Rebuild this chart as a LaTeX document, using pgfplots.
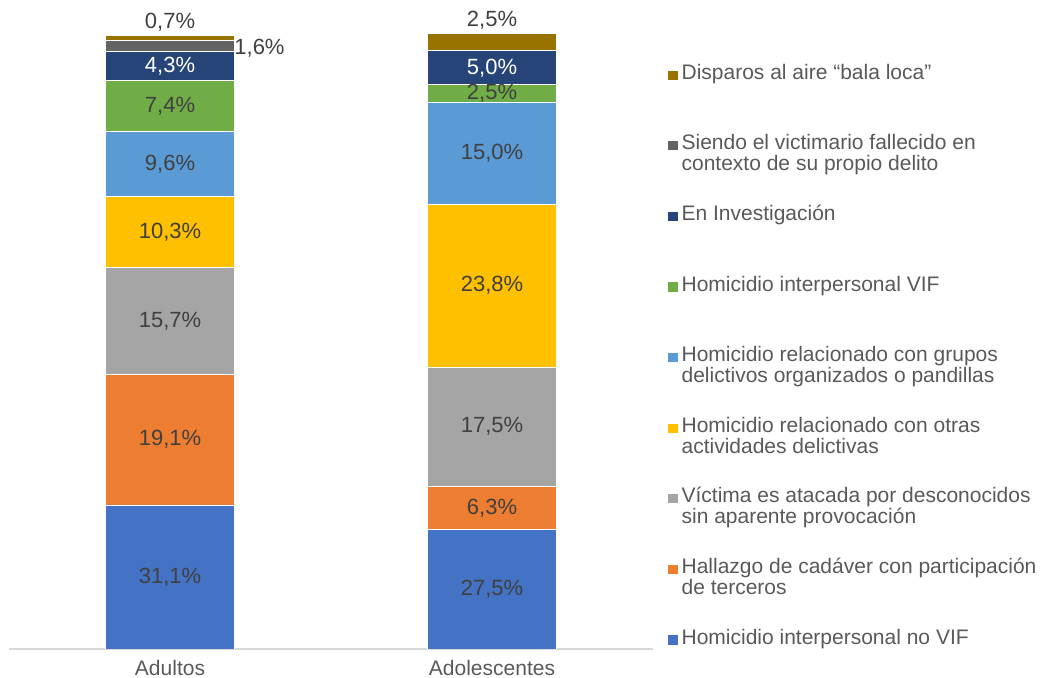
\documentclass[border=0pt]{standalone}
\usepackage{fontspec}
\setmainfont{Liberation Sans}
\usepackage{pgfplots}
\pgfplotsset{compat=1.18}

\definecolor{cA}{HTML}{4472C4}
\definecolor{cB}{HTML}{ED7D31}
\definecolor{cC}{HTML}{A5A5A5}
\definecolor{cD}{HTML}{FFC000}
\definecolor{cE}{HTML}{5B9BD5}
\definecolor{cF}{HTML}{70AD47}
\definecolor{cG}{HTML}{264478}
\definecolor{cH}{HTML}{636363}
\definecolor{cI}{HTML}{997300}
\definecolor{axisgray}{HTML}{D9D9D9}
\definecolor{txtgray}{HTML}{595959}
\definecolor{lblgray}{HTML}{404040}

% legend entries: every row gets the same box, two-line ones hang below
\newcommand{\legone}[1]{\raisebox{0pt}[8pt][2.5pt]{#1}}
\newcommand{\legtwo}[2]{\raisebox{0pt}[8pt][2.5pt]{\vtop{\baselineskip=10.5pt\hbox{#1}\hbox{#2}}}}

\begin{document}
\begin{tikzpicture}
\path[use as bounding box] (-4.5pt,-14.5pt) rectangle (519pt,324.5pt);
\begin{axis}[
    at={(0,0)}, anchor=south west,
    scale only axis, width=322pt, height=308pt,
    ybar stacked, bar width=0.4,
    xmin=-0.5, xmax=1.5, ymin=10, ymax=100.2,
    xtick={0,1}, xticklabels={Adultos,Adolescentes},
    ytick=\empty,
    axis x line*=bottom, axis y line=none,
    x axis line style={draw=axisgray, line width=0.75pt, -},
    major tick length=0pt,
    xticklabel style={font=\fontsize{10.5}{12}\selectfont, text=txtgray,
      anchor=base, yshift=-13pt},
    point meta=explicit symbolic,
    visualization depends on={rawy \as \rawy},
    nodes near coords,
    every node near coord/.append style={font=\fontsize{11}{13}\selectfont,
      text=lblgray, anchor=center},
    every axis plot/.append style={draw=white, line width=0.4pt},
    reverse legend,
    legend image code/.code={\fill[#1,draw=none] (0pt,-0.3pt) rectangle (4.6pt,4.3pt);},
    legend style={draw=none, fill=none, at={(1.0233,0.958)}, anchor=north west,
      inner sep=0pt, row sep=21.8pt, column sep=0pt,
      font=\fontsize{10.5}{10.5}\selectfont, text=txtgray,
      cells={anchor=base west, inner xsep=3pt, inner ysep=0pt}},
  ]
  % segment labels sit at the segment centres; the first one is moved to the
  % middle of the part above ymin
  \addplot[fill=cA, every node near coord/.append style={
      shift={(axis direction cs:0,5)}}]
    coordinates {(0,31.1) [31,1\%] (1,27.5) [27,5\%]};
  \addlegendentry{\legone{Homicidio interpersonal no VIF}}
  \addplot[fill=cB] coordinates {(0,19.1) [19,1\%] (1,6.3) [6,3\%]};
  \addlegendentry{\legtwo{Hallazgo de cadáver con participación}{de terceros}}
  \addplot[fill=cC] coordinates {(0,15.7) [15,7\%] (1,17.5) [17,5\%]};
  \addlegendentry{\legtwo{Víctima es atacada por desconocidos}{sin aparente provocación}}
  \addplot[fill=cD] coordinates {(0,10.3) [10,3\%] (1,23.8) [23,8\%]};
  \addlegendentry{\legtwo{Homicidio relacionado con otras}{actividades delictivas}}
  \addplot[fill=cE] coordinates {(0,9.6) [9,6\%] (1,15.0) [15,0\%]};
  \addlegendentry{\legtwo{Homicidio relacionado con grupos}{delictivos organizados o pandillas}}
  \addplot[fill=cF] coordinates {(0,7.4) [7,4\%] (1,2.5) [2,5\%]};
  \addlegendentry{\legone{Homicidio interpersonal VIF}}
  \addplot[fill=cG, every node near coord/.append style={text=white}]
    coordinates {(0,4.3) [4,3\%] (1,5.0) [5,0\%]};
  \addlegendentry{\legone{En Investigación}}
  \addplot[fill=cH, every node near coord/.append style={anchor=west, inner xsep=0pt,
      xshift=32pt, yshift=-1.2pt}]
    coordinates {(0,1.6) [1,6\%] (1,0) []};
  \addlegendentry{\legtwo{Siendo el victimario fallecido en}{contexto de su propio delito}}
  \addplot[fill=cI, every node near coord/.append style={anchor=base,
      shift={(axis direction cs:0,{\rawy/2})}, yshift=3.5pt}]
    coordinates {(0,0.7) [0,7\%] (1,2.5) [2,5\%]};
  \addlegendentry{\legone{Disparos al aire “bala loca"}}
\end{axis}
\end{tikzpicture}
\end{document}
